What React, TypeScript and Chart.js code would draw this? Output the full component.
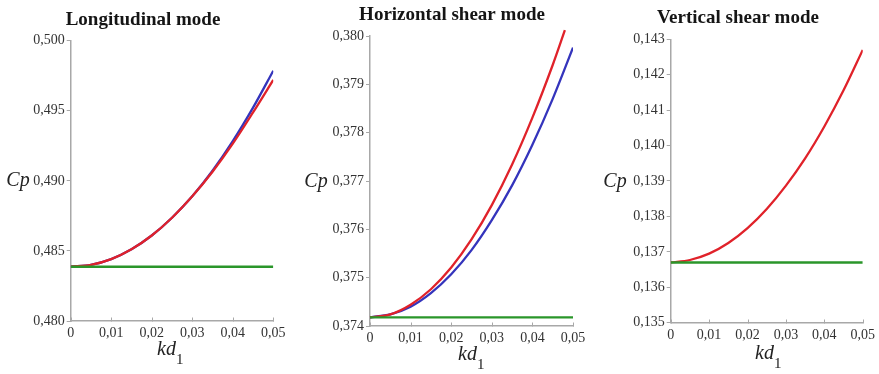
import { useEffect, useRef } from "react";
import { Chart, registerables } from "chart.js";

Chart.register(...registerables);

// Wave number * layer thickness (abscissa) sample points
const kdSteps = [0, 0.005, 0.01, 0.015, 0.02, 0.025, 0.03, 0.035, 0.04, 0.045, 0.05];
const kdEnds = [0, 0.05];
const kdTicks = [0, 0.01, 0.02, 0.03, 0.04, 0.05];

// Longitudinal mode
const longBlue = [0.48387, 0.48401, 0.48442, 0.48512, 0.4861, 0.48737, 0.4889, 0.49072, 0.49283, 0.49522, 0.49786];
const longRed = [0.48387, 0.48401, 0.48442, 0.48512, 0.4861, 0.48737, 0.4889, 0.49065, 0.49265, 0.49488, 0.4972];
const longGreen = [0.48387, 0.48387];
const longTicks = [0.48, 0.485, 0.49, 0.495, 0.5];

// Horizontal shear mode
const horizKdRed = [0, 0.005, 0.01, 0.015, 0.02, 0.025, 0.03, 0.035, 0.04, 0.045, 0.048];
const horizRed = [0.37418, 0.37424, 0.37444, 0.37476, 0.37521, 0.37579, 0.3765, 0.37734, 0.37831, 0.3794, 0.38012];
const horizBlue = [0.37418, 0.37424, 0.3744, 0.37468, 0.37507, 0.37557, 0.37619, 0.37691, 0.37775, 0.3787, 0.37976];
const horizGreen = [0.37418, 0.37418];
const horizTicks = [0.374, 0.375, 0.376, 0.377, 0.378, 0.379, 0.38];

// Vertical shear mode
const vertRed = [0.1367, 0.13677, 0.13695, 0.13725, 0.13767, 0.13821, 0.13887, 0.13964, 0.14054, 0.14156, 0.1427];
const vertGreen = [0.1367, 0.1367];
const vertTicks = [0.135, 0.136, 0.137, 0.138, 0.139, 0.14, 0.141, 0.142, 0.143];

const RED = "#e0222a";
const BLUE = "#3434bc";
const GREEN = "#2a962a";
const AXIS = "#a8a8a8";
const TICK_TEXT = "#333333";
const SERIF = "'Liberation Serif', 'DejaVu Serif', serif";

type Series = { xs: number[]; ys: number[]; color: string; clip?: boolean };

type Panel = {
  title: string;
  left: number;
  width: number;
  area: { left: number; right: number; top: number; bottom: number };
  titlePos: { x: number; y: number };
  cpPos: { x: number; y: number };
  kdPos: { x: number; y: number };
  yTicks: number[];
  series: Series[];
};

const HEIGHT = 374;

const panels: Panel[] = [
  {
    title: "Longitudinal mode",
    left: 0,
    width: 295,
    area: { left: 70.7, right: 273.3, top: 40.7, bottom: 321 },
    titlePos: { x: 143, y: 20 },
    cpPos: { x: 18, y: 181 },
    kdPos: { x: 157, y: 355 },
    yTicks: longTicks,
    series: [
      { xs: kdEnds, ys: longGreen, color: GREEN },
      { xs: kdSteps, ys: longRed, color: RED },
      { xs: kdSteps, ys: longBlue, color: BLUE },
    ],
  },
  {
    title: "Horizontal shear mode",
    left: 295,
    width: 295,
    area: { left: 75, right: 278, top: 36, bottom: 326 },
    titlePos: { x: 157, y: 15 },
    cpPos: { x: 21, y: 182 },
    kdPos: { x: 163, y: 360 },
    yTicks: horizTicks,
    series: [
      { xs: kdEnds, ys: horizGreen, color: GREEN },
      { xs: horizKdRed, ys: horizRed, color: RED, clip: false },
      { xs: kdSteps, ys: horizBlue, color: BLUE },
    ],
  },
  {
    title: "Vertical shear mode",
    left: 590,
    width: 289,
    area: { left: 80.7, right: 275, top: 39.3, bottom: 322.7 },
    titlePos: { x: 148, y: 18 },
    cpPos: { x: 25, y: 182 },
    kdPos: { x: 165, y: 359 },
    yTicks: vertTicks,
    series: [
      { xs: kdEnds, ys: vertGreen, color: GREEN },
      { xs: kdSteps, ys: vertRed, color: RED },
    ],
  },
];

const fmtY = (v: number) => Number(v).toFixed(3).replace(".", ",");
const fmtX = (v: number) => (Math.abs(v) < 1e-9 ? "0" : Number(v).toFixed(2).replace(".", ","));

function PanelChart({ panel }: { panel: Panel }) {
  const ref = useRef<HTMLCanvasElement | null>(null);

  useEffect(() => {
    const canvas = ref.current;
    if (!canvas) return;

    const textPlugin = {
      id: "panelText",
      afterDraw(chart: any) {
        const ctx = chart.ctx as CanvasRenderingContext2D;
        const xScale = chart.scales.x;
        ctx.save();

        // inward tick marks on the abscissa
        ctx.strokeStyle = AXIS;
        ctx.lineWidth = 1;
        const base = Math.round(xScale.top) + 0.5;
        kdTicks.forEach((v) => {
          const px = Math.round(xScale.getPixelForValue(v)) + 0.5;
          ctx.beginPath();
          ctx.moveTo(px, base);
          ctx.lineTo(px, base - 4);
          ctx.stroke();
        });

        // panel title
        ctx.fillStyle = "#151515";
        ctx.font = `bold 19px ${SERIF}`;
        ctx.textAlign = "center";
        ctx.textBaseline = "middle";
        ctx.fillText(panel.title, panel.titlePos.x, panel.titlePos.y);

        // ordinate label
        ctx.font = `italic 20px ${SERIF}`;
        ctx.fillStyle = "#222";
        ctx.fillText("Cp", panel.cpPos.x, panel.cpPos.y);

        // abscissa label with subscript
        ctx.textAlign = "left";
        ctx.textBaseline = "alphabetic";
        ctx.font = `italic 20px ${SERIF}`;
        ctx.fillText("kd", panel.kdPos.x, panel.kdPos.y);
        const w = ctx.measureText("kd").width;
        ctx.font = `15px ${SERIF}`;
        ctx.fillText("1", panel.kdPos.x + w, panel.kdPos.y + 9);

        ctx.restore();
      },
    };

    const yTicks = panel.yTicks;
    const chart = new Chart(canvas, {
      type: "line",
      data: {
        datasets: panel.series.map((s) => ({
          data: s.xs.map((x, i) => ({ x, y: s.ys[i] })),
          borderColor: s.color,
          borderWidth: 2.3,
          pointRadius: 0,
          fill: false,
          cubicInterpolationMode: "monotone" as const,
          clip: s.clip === false ? (false as any) : undefined,
        })),
      },
      options: {
        responsive: false,
        animation: false,
        events: [],
        layout: {
          padding: {
            left: 0,
            top: panel.area.top,
            right: panel.width - panel.area.right,
            bottom: 0,
          },
        },
        plugins: {
          legend: { display: false },
          tooltip: { enabled: false },
          title: { display: false },
        },
        scales: {
          x: {
            type: "linear",
            min: 0,
            max: 0.05,
            afterBuildTicks: (scale: any) => {
              scale.ticks = kdTicks.map((value) => ({ value }));
            },
            afterFit: (scale: any) => {
              scale.height = HEIGHT - panel.area.bottom;
            },
            grid: { display: false, drawTicks: false },
            border: { display: true, color: AXIS, width: 1.5 },
            ticks: {
              padding: 4,
              color: TICK_TEXT,
              font: { family: SERIF, size: 14 },
              maxRotation: 0,
              autoSkip: false,
              callback: (v: any) => fmtX(Number(v)),
            },
          },
          y: {
            type: "linear",
            min: yTicks[0],
            max: yTicks[yTicks.length - 1],
            afterBuildTicks: (scale: any) => {
              scale.ticks = yTicks.map((value) => ({ value }));
            },
            afterFit: (scale: any) => {
              scale.width = panel.area.left;
            },
            grid: {
              display: true,
              drawOnChartArea: false,
              drawTicks: true,
              tickLength: 4,
              color: AXIS,
              lineWidth: 1,
            },
            border: { display: true, color: AXIS, width: 1.5 },
            ticks: {
              padding: 2,
              color: TICK_TEXT,
              font: { family: SERIF, size: 14 },
              autoSkip: false,
              callback: (v: any) => fmtY(Number(v)),
            },
          },
        },
      },
      plugins: [textPlugin],
    });

    return () => chart.destroy();
  }, [panel]);

  return (
    <canvas
      ref={ref}
      width={panel.width}
      height={HEIGHT}
      style={{
        position: "absolute",
        left: panel.left,
        top: 0,
        width: panel.width,
        height: HEIGHT,
      }}
    />
  );
}

export default function App() {
  return (
    <div
      style={{
        position: "absolute",
        left: 0,
        top: 0,
        width: 879,
        height: HEIGHT,
        background: "#ffffff",
        overflow: "hidden",
      }}
    >
      {panels.map((p) => (
        <PanelChart key={p.title} panel={p} />
      ))}
    </div>
  );
}
